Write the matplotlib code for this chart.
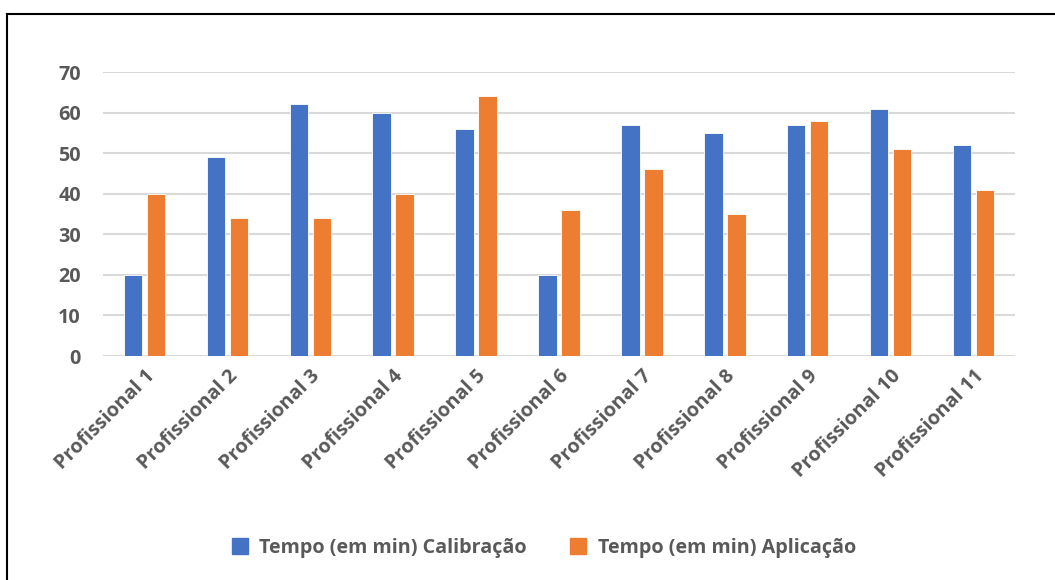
import numpy as np
import matplotlib.pyplot as plt
from matplotlib.lines import Line2D

categories = [f"Profissional {i}" for i in range(1, 12)]
calibracao = [20, 49, 62, 60, 56, 20, 57, 55, 57, 61, 52]
aplicacao = [40, 34, 34, 40, 64, 36, 46, 35, 58, 51, 41]
series_names = ["Tempo (em min) Calibração", "Tempo (em min) Aplicação"]
y_ticks = [0, 10, 20, 30, 40, 50, 60, 70]

BLUE = "#4472C4"
ORANGE = "#ED7D31"
TEXT = "#595959"
GRID = "#D9D9D9"
FS = 14.2

plt.rcParams["font.family"] = ["Open Sans", "DejaVu Sans"]
plt.rcParams["font.weight"] = "bold"

W, H = 1055, 580
fig = plt.figure(figsize=(W / 100, H / 100), dpi=100)
ax = fig.add_axes([103 / W, 1 - 356 / H, (1015 - 103) / W, (356 - 72) / H])

x = np.arange(len(categories))
bw = 0.223
off = 0.139
ax.bar(x - off, calibracao, bw, color=BLUE, edgecolor="white", linewidth=0.6,
       label=series_names[0], zorder=3)
ax.bar(x + off, aplicacao, bw, color=ORANGE, edgecolor="white", linewidth=0.6,
       label=series_names[1], zorder=3)

ax.set_xlim(-0.5, len(categories) - 0.5)
ax.set_ylim(0, 70)
ax.set_yticks(y_ticks)
ax.yaxis.grid(True, color=GRID, linewidth=1.5, zorder=0)
for s in ax.spines.values():
    s.set_visible(False)
ax.tick_params(axis="both", length=0, colors=TEXT, labelsize=FS)
ax.tick_params(axis="y", pad=16)
ax.set_xticks(x)
ax.set_xticklabels(categories, rotation=45, ha="right", rotation_mode="anchor",
                   fontweight="bold")
ax.tick_params(axis="x", pad=7)
for lbl in ax.get_yticklabels():
    lbl.set_fontweight("bold")

handles = [Line2D([], [], marker="s", linestyle="none", markersize=11,
                  markerfacecolor=c, markeredgecolor=c) for c in (BLUE, ORANGE)]
fig.legend(handles, series_names, loc="center", bbox_to_anchor=(538 / W, 1 - 548 / H),
           ncol=2, frameon=False, handletextpad=0.0,
           columnspacing=1.6, labelcolor=TEXT, prop={"weight": "bold", "size": FS})

# outer frame (left and top edges)
fig.add_artist(Line2D([7 / W, 7 / W], [0, 1 - 14 / H], transform=fig.transFigure,
                      color="black", linewidth=1.5))
fig.add_artist(Line2D([7 / W, 1], [1 - 14 / H, 1 - 14 / H], transform=fig.transFigure,
                      color="black", linewidth=1.5))

fig.savefig("out.png", dpi=100, facecolor="white")
